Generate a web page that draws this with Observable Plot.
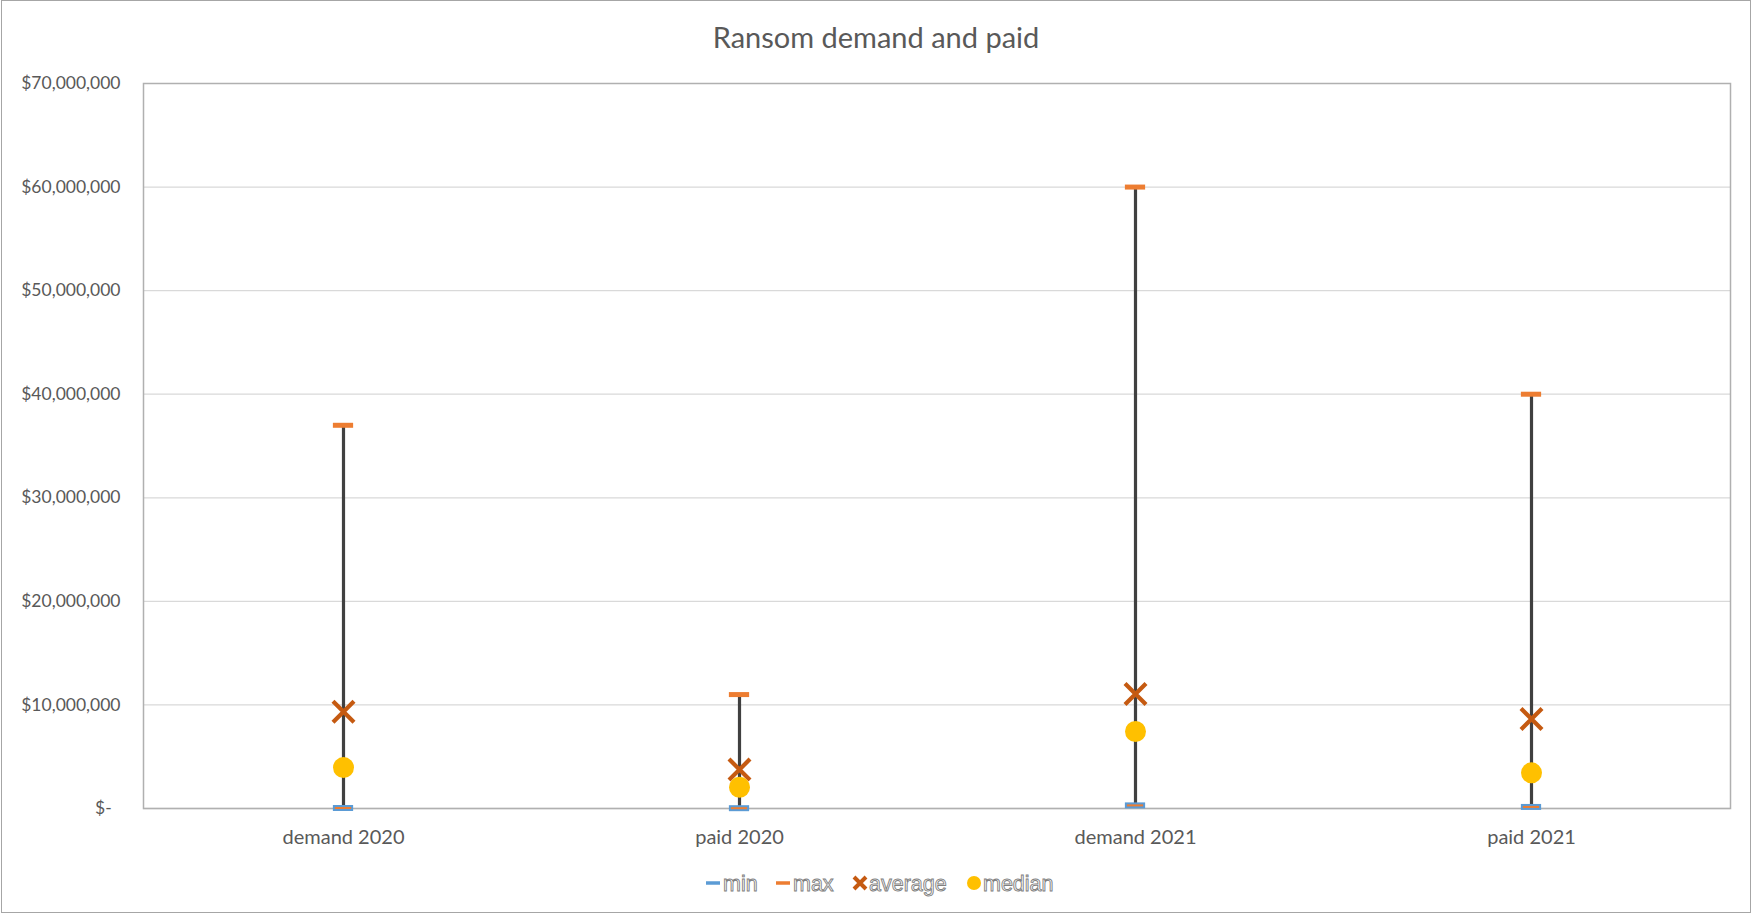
<!DOCTYPE html>
<html>
<head>
<meta charset="utf-8">
<script src="https://cdn.jsdelivr.net/npm/d3@7"></script>
<script src="https://cdn.jsdelivr.net/npm/@observablehq/plot@0.6"></script>
<style>
  html, body { margin: 0; padding: 0; background: #fff; }
  #wrap { position: relative; width: 1752px; height: 914px; overflow: hidden; font-family: Lato, "Open Sans", sans-serif; }
  #border { position: absolute; left: 1px; top: 0px; width: 1748px; height: 911px; border: 1.5px solid #a6a6a6; box-sizing: content-box; pointer-events: none; }
  #title { position: absolute; left: 0; top: 22px; width: 1752px; text-align: center; font-size: 29px; color: #595959; line-height: 1; }
  #chart { position: absolute; left: 0; top: 0; }
  #legend { position: absolute; left: 0; top: 860px; }
</style>
</head>
<body>
<div id="wrap">
  <div id="chart"></div>
  <div id="title">Ransom demand and paid</div>
  <svg id="legend" width="1752" height="50"></svg>
  <div id="border"></div>
</div>
<script>
// ---- data ----
const categories = ["demand 2020", "paid 2020", "demand 2021", "paid 2021"];
const minVals    = [50000, 30000, 300000, 150000];
const maxVals    = [37000000, 11000000, 60000000, 40000000];
const avgVals    = [9350000, 3760000, 11060000, 8650000];
const medianVals = [3950000, 2050000, 7430000, 3440000];
const yTicks     = [0, 10000000, 20000000, 30000000, 40000000, 50000000, 60000000, 70000000];
const seriesNames = ["min", "max", "average", "median"];

const rows = categories.map((c, i) => ({
  cat: c, min: minVals[i], max: maxVals[i], avg: avgVals[i], median: medianVals[i]
}));

const fmt = d => d === 0 ? "$-\u2002" : "$" + d3.format(",")(d);

const W = 1752, H = 914;
const mL = 143, mR = 22, mT = 83, mB = 106;
const bandW = (W - mL - mR) / categories.length;
const capHalf = 10.5;
const inset = bandW / 2 - capHalf;

const plot = Plot.plot({
  width: W,
  height: H,
  marginLeft: mL,
  marginRight: mR,
  marginTop: mT,
  marginBottom: mB,
  style: { fontFamily: "Lato, 'Open Sans', sans-serif", color: "#595959", background: "transparent" },
  x: { type: "band", domain: categories, padding: 0 },
  y: { domain: [0, 70000000] },
  marks: [
    Plot.ruleY(yTicks.slice(1, -1), { stroke: "#d9d9d9", strokeWidth: 1.3 }),
    Plot.ruleY([0], { stroke: "#d9d9d9", strokeWidth: 1.5 }),
    Plot.frame({ stroke: "#b0b0b0", strokeWidth: 1.5 }),
    Plot.axisY({ ticks: yTicks, tickFormat: fmt, tickSize: 0, tickPadding: 23, fontSize: 17.5, label: null }),
    Plot.axisX({ tickSize: 0, tickPadding: 21, fontSize: 20, label: null }),
    Plot.ruleX(rows, { x: "cat", y1: "min", y2: "max", stroke: "#404040", strokeWidth: 3.2 }),
    Plot.tickY(rows, { x: "cat", y: "min", stroke: "#5B9BD5", strokeWidth: 6, insetLeft: inset, insetRight: inset }),
    Plot.tickY(rows, { x: "cat", y: "min", stroke: "#ED7D31", strokeWidth: 2, insetLeft: inset + 2, insetRight: inset + 2 }),
    Plot.tickY(rows, { x: "cat", y: "max", stroke: "#ED7D31", strokeWidth: 5, insetLeft: inset, insetRight: inset }),
    Plot.dot(rows, { x: "cat", y: "avg", symbol: "times", r: 9.6, stroke: "#C55A11", strokeWidth: 4.2 }),
    Plot.dot(rows, { x: "cat", y: "median", symbol: "circle", r: 10.5, fill: "#FFC000", stroke: "none" })
  ]
});
document.getElementById("chart").appendChild(plot);

// ---- legend ----
const lg = d3.select("#legend");
const cy = 23;
const items = [
  { name: seriesNames[0], sx: 713, tx: 723 },
  { name: seriesNames[1], sx: 783, tx: 793 },
  { name: seriesNames[2], sx: 860, tx: 869 },
  { name: seriesNames[3], sx: 974, tx: 983 }
];
// min
lg.append("line").attr("x1", items[0].sx - 7).attr("x2", items[0].sx + 7).attr("y1", cy).attr("y2", cy)
  .attr("stroke", "#5B9BD5").attr("stroke-width", 3.5);
// max
lg.append("line").attr("x1", items[1].sx - 7).attr("x2", items[1].sx + 7).attr("y1", cy).attr("y2", cy)
  .attr("stroke", "#ED7D31").attr("stroke-width", 3.5);
// average
lg.append("path").attr("d", `M${items[2].sx - 6},${cy - 6}L${items[2].sx + 6},${cy + 6}M${items[2].sx - 6},${cy + 6}L${items[2].sx + 6},${cy - 6}`)
  .attr("stroke", "#C55A11").attr("stroke-width", 4);
// median
lg.append("circle").attr("cx", items[3].sx).attr("cy", cy).attr("r", 7).attr("fill", "#FFC000");
items.forEach(it => {
  lg.append("text").attr("x", it.tx).attr("y", cy + 7.5).text(it.name)
    .attr("font-family", "'Liberation Sans', Arial, sans-serif").attr("font-size", 21.5)
    .attr("fill", "#ffffff").attr("stroke", "#808080").attr("stroke-width", 0.9);
});
</script>
</body>
</html>
